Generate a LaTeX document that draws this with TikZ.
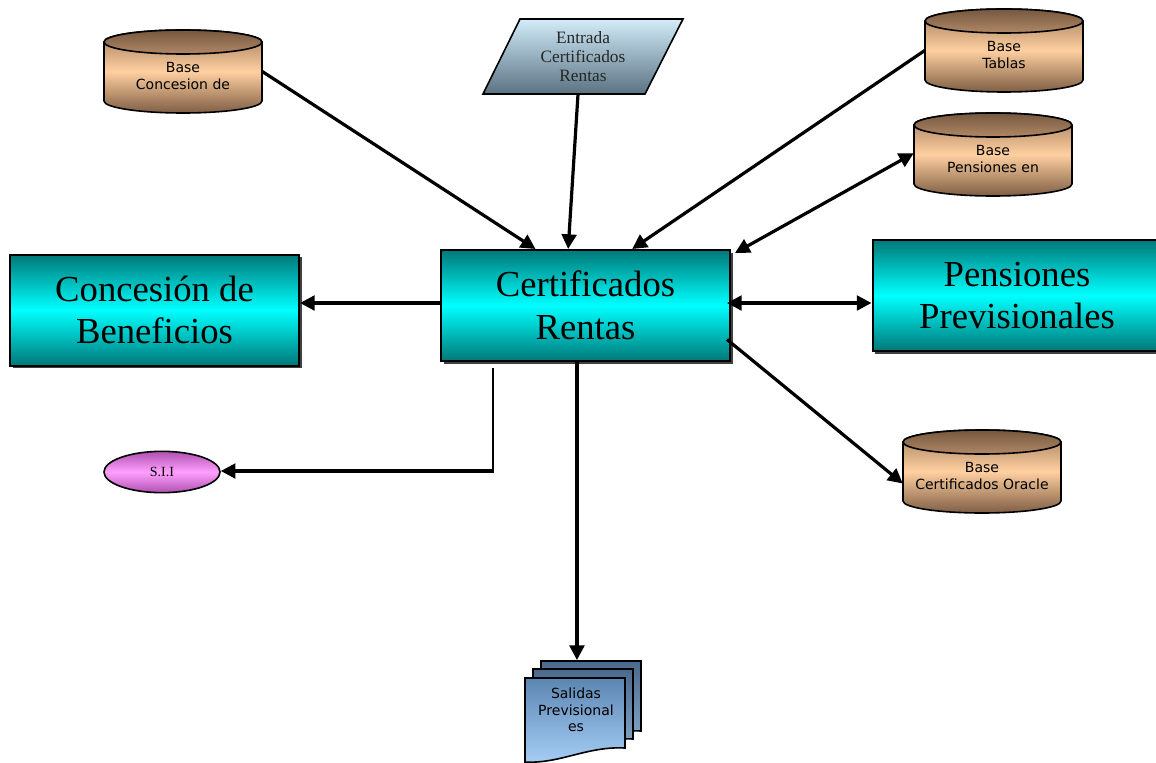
\documentclass[tikz,border=0pt]{standalone}
\usepackage{fontspec}
\setmainfont{Liberation Serif}
\setsansfont{DejaVu Sans}
\usetikzlibrary{arrows.meta,shadows,calc,shapes.geometric}

\definecolor{tealedge}{HTML}{007878}
\definecolor{tealmid}{HTML}{00FFFF}
\definecolor{cylbody}{HTML}{9E7A5A}
\definecolor{cylmid}{HTML}{FFCFA0}
\definecolor{cylbot}{HTML}{7E5E44}
\definecolor{captop}{HTML}{76583F}
\definecolor{capbot}{HTML}{B08866}
\definecolor{partop}{HTML}{D2ECFA}
\definecolor{parbot}{HTML}{5A7282}
\definecolor{siiedge}{HTML}{B050B0}
\definecolor{siimid}{HTML}{FFA0FF}
\definecolor{docdark}{HTML}{4A6A8C}
\definecolor{doclight}{HTML}{86AAD0}
\definecolor{fronttop}{HTML}{5C86B2}
\definecolor{frontbot}{HTML}{A6CEF6}

\tikzset{
  procbox/.style={draw=black, line width=1.5pt, inner sep=0pt,
    minimum width=216.75pt, minimum height=83.25pt,
    top color=tealedge, bottom color=tealedge, middle color=tealmid,
    drop shadow={shadow xshift=2pt, shadow yshift=-2pt, fill=black!75, opacity=1},
    font=\fontsize{27.5}{32}\selectfont, align=center},
  cyltext/.style={font=\sffamily\fontsize{10.5}{12.4}\selectfont, align=center, inner sep=0pt},
  anchorbox/.style={inner sep=0pt, draw=none},
  arr/.style={line width=2.4pt, -{Triangle[length=11pt, width=11pt]}},
  dblarr/.style={line width=2.4pt, {Triangle[length=11pt, width=11pt]}-{Triangle[length=11pt, width=11pt]}},
  thinline/.style={line width=1.1pt},
}

% database drum: #1 name, #2 left x, #3 top y, #4 label
\newcommand{\dbdrum}[4]{%
  \begin{scope}[shift={(#2,-#3)}]
    \shade[top color=cylbody, bottom color=cylbot, middle color=cylmid,
           draw=black, line width=1.2pt]
      (0,-12) -- (0,-71) arc[start angle=180, end angle=360, x radius=79, y radius=12]
      -- (158,-12) arc[start angle=0, end angle=180, x radius=79, y radius=12] -- cycle;
    \shade[top color=captop, bottom color=capbot, draw=black, line width=1.2pt]
      (79,-12) ellipse[x radius=79, y radius=12];
    \node[anchorbox, name=#1, minimum width=118.5pt, minimum height=62.25pt] at (79,-41.5) {};
    \node[cyltext] at (79,-46) {#4};
  \end{scope}}

% one sheet of the document stack
\newcommand{\docsheet}[3]{%
  \begin{scope}[shift={(#1,-#2)}]
    \shade[#3, draw=black, line width=1.2pt]
      (0,0) -- (100,0) -- (100,-70)
      .. controls (62,-68) and (35,-86) .. (0,-84) -- cycle;
  \end{scope}}

\begin{document}
\begin{tikzpicture}[x=0.75pt, y=0.75pt]
  \useasboundingbox (0,0) rectangle (1156,-763);

  % main process boxes
  \node[procbox] (cert) at (585.5,-305.5) {Certificados\\Rentas};
  \node[procbox] (conc) at (154.5,-310) {Concesión de\\Beneficios};
  \node[procbox] (pens) at (1017,-295.5) {Pensiones\\Previsionales};

  % databases
  \dbdrum{bcon}{104}{30}{Base\\Concesion de}
  \dbdrum{btab}{925}{9}{Base\\Tablas}
  \dbdrum{bpen}{914}{113}{Base\\Pensiones en}
  \dbdrum{bora}{903}{430}{Base\\Certificados Oracle}

  % input parallelogram
  \shade[top color=partop, bottom color=parbot, draw=black, line width=1.2pt]
    (520,-19) -- (683,-19) -- (645,-94) -- (483,-94) -- cycle;
  \node[anchorbox, minimum width=122pt, minimum height=56.25pt] (entr) at (583,-56.5) {};
  \node[font=\fontsize{13}{14}\selectfont, align=center, inner sep=0pt, text=black!85]
    at (entr.center) {Entrada\\Certificados\\Rentas};

  % S.I.I ellipse
  \node[ellipse, draw=black, line width=1.2pt, minimum width=87pt, minimum height=31pt,
        inner sep=0pt, top color=siiedge, bottom color=siiedge, middle color=siimid,
        font=\fontsize{10.5}{12}\selectfont] (sii) at (162,-472) {S.I.I};

  % output document stack
  \docsheet{541}{661}{top color=docdark, bottom color=doclight}
  \docsheet{533}{669}{top color=docdark, bottom color=doclight}
  \docsheet{525}{678}{top color=fronttop, bottom color=frontbot}
  \node[anchorbox, minimum width=87pt, minimum height=76pt] (sal) at (583,-711) {};
  \node[cyltext] at (576,-710) {Salidas\\Previsional\\es};

  % connectors
  \draw[arr] (bcon.east) -- ([xshift=-37.5pt]cert.north);
  \draw[arr] ([xshift=-3.75pt]entr.south) -- ([xshift=-13pt]cert.north);
  \draw[arr] (btab.west) -- ([xshift=35pt]cert.north);
  \draw[dblarr] ([xshift=3pt,yshift=-3pt]cert.north east) -- ([yshift=1pt]bpen.west);
  \draw[arr] (cert.west |- 0,-303) -- (conc.east |- 0,-303);
  \draw[dblarr] ([xshift=-3pt]cert.east |- 0,-303) -- (pens.west |- 0,-303);
  \draw[arr] ([xshift=-3pt,yshift=-25.5pt]cert.east) -- ([yshift=-9pt]bora.west);
  \coordinate (siicorner) at (493,-471);
  \draw[thinline] ([yshift=-4.5pt]cert.south -| siicorner) -- (siicorner);
  \draw[arr] ([xshift=0.5pt]siicorner) -- (sii.east |- siicorner);
  \draw[arr] ([xshift=-6.4pt]cert.south) -- ([xshift=-6.4pt]cert.south |- sal.north);
\end{tikzpicture}
\end{document}
